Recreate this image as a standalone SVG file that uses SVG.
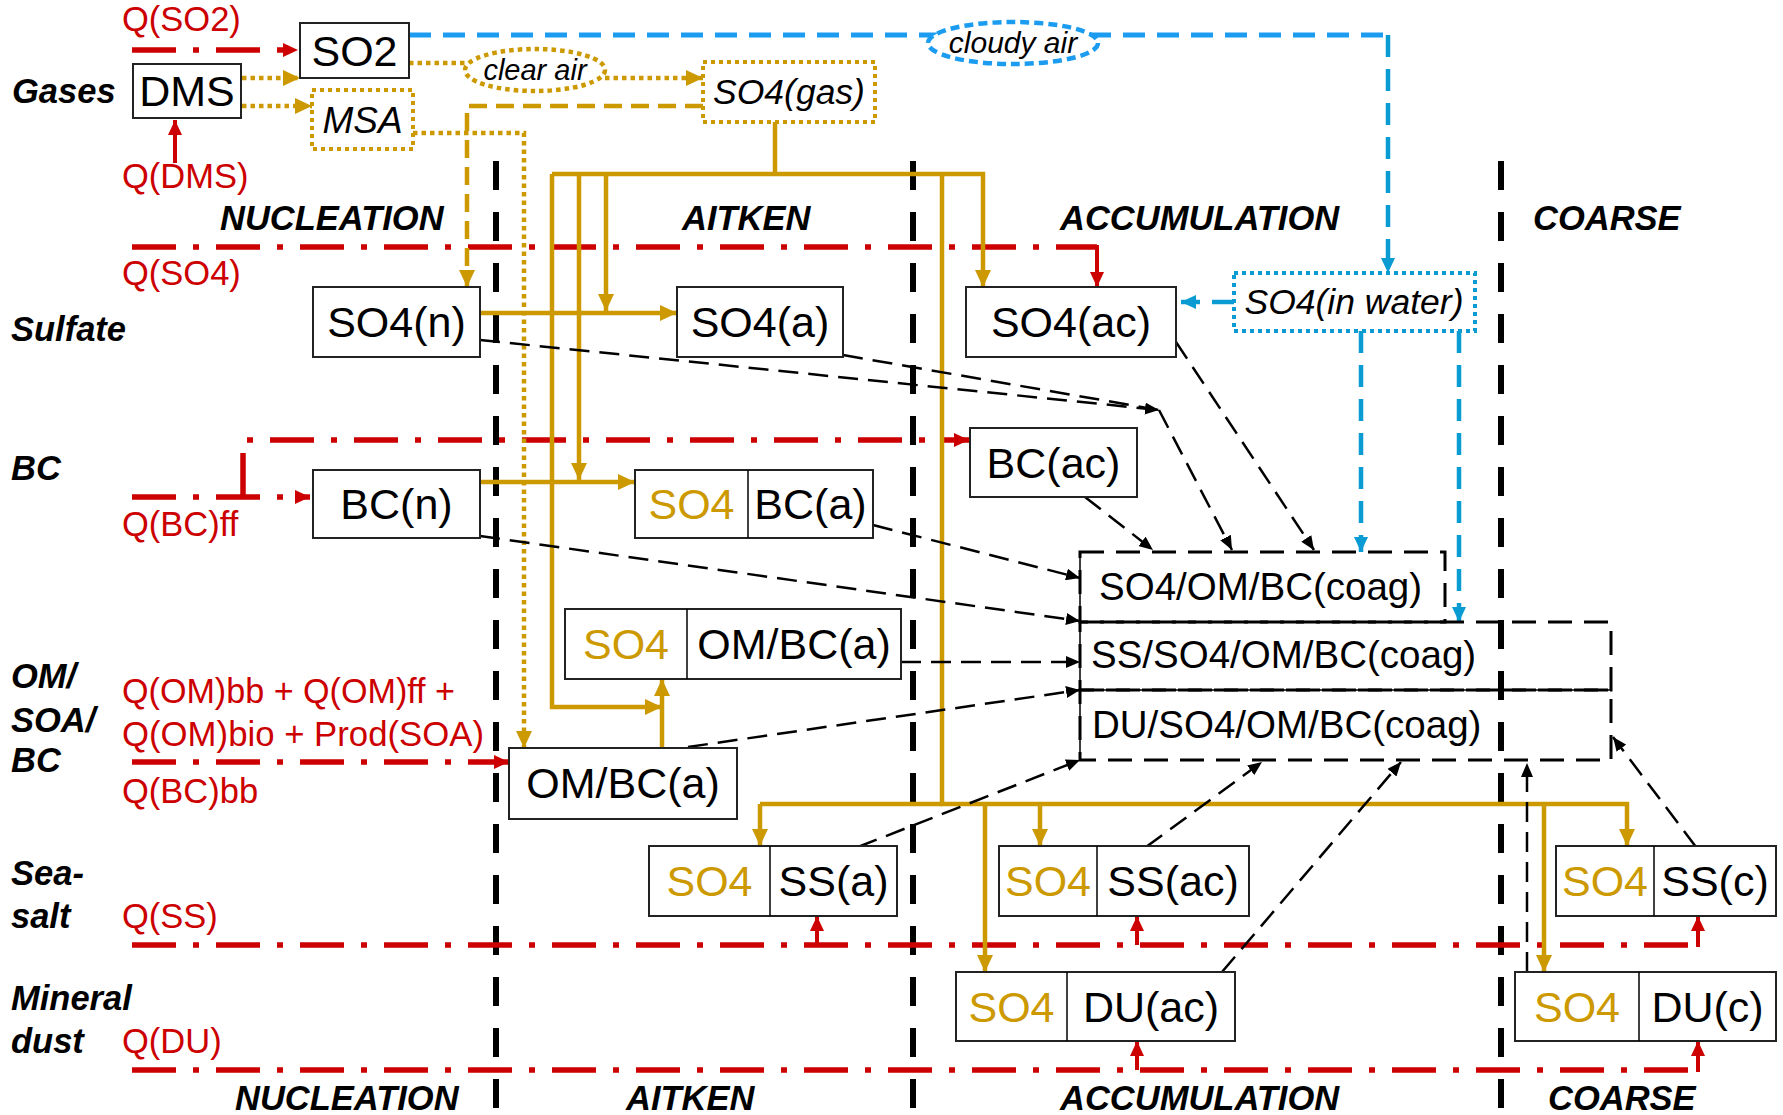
<svg xmlns="http://www.w3.org/2000/svg" width="1783" height="1115" viewBox="0 0 1783 1115">
<style>
text{font-family:"Liberation Sans",Arial,sans-serif}
.bx{font-size:43px;fill:#000;text-anchor:middle}
.gt{fill:#CC9900}
.it{font-style:italic}
.lab{font-size:34.5px;font-style:italic;font-weight:bold;fill:#000}
.rq{font-size:34.5px;fill:#CC0000}
.co{font-size:38.5px;fill:#000}
.box{fill:#fff;stroke:#222;stroke-width:2}
.div{stroke:#000;stroke-width:6;stroke-dasharray:29 22;fill:none}
.rdd{stroke:#CC0000;stroke-width:5.5;stroke-dasharray:44 17 6 17;fill:none}
.rs{stroke:#CC0000;stroke-width:4;fill:none}
.gs{stroke:#CC9900;stroke-width:4.5;fill:none}
.gdot{stroke:#CC9900;stroke-width:4.5;stroke-dasharray:4.5 4;fill:none}
.gdash{stroke:#CC9900;stroke-width:4.5;stroke-dasharray:18 9;fill:none}
.bsky{stroke:#1C9CF0;stroke-width:5;stroke-dasharray:22 12;fill:none}
.bteal{stroke:#0B9BD3;stroke-width:4.5;stroke-dasharray:22 12;fill:none}
.cg{stroke:#000;stroke-width:2.5;stroke-dasharray:20 10;fill:none}
.cgbox{stroke:#000;stroke-width:3;stroke-dasharray:24 12;fill:none}
.thin{stroke:#000;stroke-width:1.5;fill:none}
.gbox{fill:#fff;stroke:#CC9900;stroke-width:4;stroke-dasharray:4 4}
.git{font-style:italic;fill:#000;text-anchor:middle}
</style>
<defs>
<marker id="aR" markerUnits="userSpaceOnUse" markerWidth="15" markerHeight="14" refX="15" refY="7" orient="auto"><path d="M0,0 L15,7 L0,14 z" fill="#CC0000"/></marker>
<marker id="aG" markerUnits="userSpaceOnUse" markerWidth="17" markerHeight="16" refX="17" refY="8" orient="auto"><path d="M0,0 L17,8 L0,16 z" fill="#CC9900"/></marker>
<marker id="aB" markerUnits="userSpaceOnUse" markerWidth="15" markerHeight="14" refX="15" refY="7" orient="auto"><path d="M0,0 L15,7 L0,14 z" fill="#0B9BD3"/></marker>
<marker id="aK" markerUnits="userSpaceOnUse" markerWidth="14" markerHeight="12" refX="14" refY="6" orient="auto"><path d="M0,0 L14,6 L0,12 z" fill="#000"/></marker>
</defs>
<rect width="1783" height="1115" fill="#fff"/>

<g id="labels">
<text class="lab" x="12" y="103">Gases</text>
<text class="lab" x="11" y="341">Sulfate</text>
<text class="lab" x="11" y="480">BC</text>
<text class="lab" x="11" y="688">OM/</text>
<text class="lab" x="11" y="732">SOA/</text>
<text class="lab" x="11" y="772">BC</text>
<text class="lab" x="11" y="885">Sea-</text>
<text class="lab" x="11" y="928">salt</text>
<text class="lab" x="11" y="1010">Mineral</text>
<text class="lab" x="11" y="1053">dust</text>
<text class="lab" x="220" y="230">NUCLEATION</text>
<text class="lab" x="682" y="230">AITKEN</text>
<text class="lab" x="1060" y="230">ACCUMULATION</text>
<text class="lab" x="1533" y="230">COARSE</text>
<text class="lab" x="235" y="1110">NUCLEATION</text>
<text class="lab" x="626" y="1110">AITKEN</text>
<text class="lab" x="1060" y="1110">ACCUMULATION</text>
<text class="lab" x="1548" y="1110">COARSE</text>
<text class="rq" x="122" y="31">Q(SO2)</text>
<text class="rq" x="122" y="188">Q(DMS)</text>
<text class="rq" x="122" y="285">Q(SO4)</text>
<text class="rq" x="122" y="536">Q(BC)ff</text>
<text class="rq" x="122" y="703" textLength="333" lengthAdjust="spacingAndGlyphs">Q(OM)bb + Q(OM)ff +</text>
<text class="rq" x="122" y="746" textLength="362" lengthAdjust="spacingAndGlyphs">Q(OM)bio + Prod(SOA)</text>
<text class="rq" x="122" y="803">Q(BC)bb</text>
<text class="rq" x="122" y="928">Q(SS)</text>
<text class="rq" x="122" y="1053">Q(DU)</text>
</g>

<g id="dividers">
<path class="div" d="M496,161 V1115"/>
<path class="div" d="M913,161 V1115"/>
<path class="div" d="M1501,161 V1115"/>
</g>

<g id="connectors">
<path class="rdd" d="M132,50 H298" marker-end="url(#aR)"/>
<path class="rs" d="M175,163 V120" marker-end="url(#aR)"/>
<path class="rdd" d="M132,247 H1097"/>
<path class="rs" d="M1097,245 V287" marker-end="url(#aR)"/>
<path class="rdd" d="M132,497 H310" marker-end="url(#aR)"/>
<path class="rdd" d="M243,497 V440 H969" marker-end="url(#aR)"/>
<path class="rdd" d="M132,762 H509" marker-end="url(#aR)"/>
<path class="rdd" d="M132,945 H1698"/>
<path class="rs" d="M817,945 V916" marker-end="url(#aR)"/>
<path class="rs" d="M1137,945 V916" marker-end="url(#aR)"/>
<path class="rs" d="M1698,947 V916" marker-end="url(#aR)"/>
<path class="rdd" d="M132,1070 H1698"/>
<path class="rs" d="M1137,1070 V1041" marker-end="url(#aR)"/>
<path class="rs" d="M1698,1072 V1041" marker-end="url(#aR)"/>

<path class="gdot" d="M242,78 H300" marker-end="url(#aG)"/>
<path class="gdot" d="M242,106 H312" marker-end="url(#aG)"/>
<path class="gdot" d="M409,63 H466"/>
<path class="gdot" d="M605,78 H703" marker-end="url(#aG)"/>
<path class="gdot" d="M413,133 H524 V748" marker-end="url(#aG)"/>
<path class="gdash" d="M703,106 H467 V287" marker-end="url(#aG)"/>

<path class="gs" d="M775,122 V174"/>
<path class="gs" d="M552,174 H983 V287" marker-end="url(#aG)"/>
<path class="gs" d="M606,174 V311" marker-end="url(#aG)"/>
<path class="gs" d="M579,174 V480" marker-end="url(#aG)"/>
<path class="gs" d="M552,174 V707 H662" marker-end="url(#aG)"/>
<path class="gs" d="M662,748 V679" marker-end="url(#aG)"/>
<path class="gs" d="M480,313 H677" marker-end="url(#aG)"/>
<path class="gs" d="M480,482 H635" marker-end="url(#aG)"/>
<path class="gs" d="M942,174 V804 H1627 V846" marker-end="url(#aG)"/>
<path class="gs" d="M760,804 V846" marker-end="url(#aG)"/>
<path class="gs" d="M760,804 H942"/>
<path class="gs" d="M985,804 V972" marker-end="url(#aG)"/>
<path class="gs" d="M1040,804 V846" marker-end="url(#aG)"/>
<path class="gs" d="M1544,804 V972" marker-end="url(#aG)"/>

<path class="bsky" d="M409,35 H1388"/>
<path class="bteal" d="M1388,35 V273" marker-end="url(#aB)"/>
<path class="bteal" d="M1234,302 H1181" marker-end="url(#aB)"/>
<path class="bteal" d="M1361,331 V552" marker-end="url(#aB)"/>
<path class="bteal" d="M1459,331 V622" marker-end="url(#aB)"/>

<path class="cg" d="M480,340 L1159,410" marker-end="url(#aK)"/>
<path class="cg" d="M843,355 L1159,410"/>
<path class="cg" d="M1159,410 L1232,550" marker-end="url(#aK)"/>
<path class="cg" d="M1176,342 L1314,550" marker-end="url(#aK)"/>
<path class="cg" d="M1085,497 L1153,550" marker-end="url(#aK)"/>
<path class="cg" d="M873,525 L1080,578" marker-end="url(#aK)"/>
<path class="cg" d="M480,536 L1080,621" marker-end="url(#aK)"/>
<path class="cg" d="M901,662 H1080" marker-end="url(#aK)"/>
<path class="cg" d="M688,747 L1080,690" marker-end="url(#aK)"/>
<path class="cg" d="M858,847 L1080,760" marker-end="url(#aK)"/>
<path class="cg" d="M1146,847 L1262,762" marker-end="url(#aK)"/>
<path class="cg" d="M1222,972 L1401,762" marker-end="url(#aK)"/>
<path class="cg" d="M1527,972 V763" marker-end="url(#aK)"/>
<path class="cg" d="M1696,847 L1613,737" marker-end="url(#aK)"/>
</g>

<g id="n-clearair">
<ellipse cx="535" cy="70" rx="70" ry="21" class="gdot" style="fill:#fff"/>
<text class="git" x="535" y="80" style="font-size:29px">clear air</text>
</g>
<g id="n-cloudyair">
<ellipse cx="1013" cy="43" rx="85" ry="21" style="fill:#fff;stroke:#1C9CF0;stroke-width:4.5;stroke-dasharray:9 5"/>
<text class="git" x="1013" y="53" style="font-size:30px">cloudy air</text>
</g>
<g id="n-so2"><rect class="box" x="300" y="23" width="109" height="55"/><text class="bx" x="354.5" y="66">SO2</text></g>
<g id="n-dms"><rect class="box" x="133" y="64" width="108" height="54"/><text class="bx" x="187" y="106">DMS</text></g>
<g id="n-msa"><rect class="gbox" x="312" y="90" width="101" height="59"/><text class="git" x="362.5" y="133" style="font-size:37px">MSA</text></g>
<g id="n-so4gas"><rect class="gbox" x="703" y="62" width="172" height="60"/><text class="git" x="789" y="104" style="font-size:35.5px">SO4(gas)</text></g>
<g id="n-so4water"><rect x="1234" y="273" width="241" height="58" style="fill:#fff;stroke:#0B9BD3;stroke-width:4;stroke-dasharray:4 4"/><text class="git" x="1354" y="314" style="font-size:35.5px">SO4(in water)</text></g>
<g id="n-so4n"><rect class="box" x="313" y="287" width="167" height="70"/><text class="bx" x="396.5" y="337">SO4(n)</text></g>
<g id="n-so4a"><rect class="box" x="677" y="287" width="166" height="70"/><text class="bx" x="760" y="337">SO4(a)</text></g>
<g id="n-so4ac"><rect class="box" x="966" y="287" width="210" height="70"/><text class="bx" x="1071" y="337">SO4(ac)</text></g>
<g id="n-bcn"><rect class="box" x="313" y="470" width="167" height="68"/><text class="bx" x="396.5" y="519">BC(n)</text></g>
<g id="n-bca"><rect class="box" x="635" y="470" width="238" height="68"/><line class="thin" x1="748" y1="470" x2="748" y2="538"/><text class="bx gt" x="691.5" y="519">SO4</text><text class="bx" x="810.5" y="519">BC(a)</text></g>
<g id="n-bcac"><rect class="box" x="970" y="428" width="167" height="69"/><text class="bx" x="1053.5" y="478">BC(ac)</text></g>
<g id="n-so4ombca"><rect class="box" x="565" y="609" width="336" height="70"/><line class="thin" x1="687" y1="609" x2="687" y2="679"/><text class="bx gt" x="626" y="659">SO4</text><text class="bx" x="794" y="659">OM/BC(a)</text></g>
<g id="n-ombca"><rect class="box" x="509" y="748" width="228" height="71"/><text class="bx" x="623" y="798">OM/BC(a)</text></g>
<g id="n-ssa"><rect class="box" x="649" y="846" width="248" height="70"/><line class="thin" x1="770" y1="846" x2="770" y2="916"/><text class="bx gt" x="709.5" y="896">SO4</text><text class="bx" x="833.5" y="896">SS(a)</text></g>
<g id="n-ssac"><rect class="box" x="999" y="846" width="250" height="70"/><line class="thin" x1="1097" y1="846" x2="1097" y2="916"/><text class="bx gt" x="1048" y="896">SO4</text><text class="bx" x="1173" y="896">SS(ac)</text></g>
<g id="n-duac"><rect class="box" x="956" y="972" width="279" height="69"/><line class="thin" x1="1067" y1="972" x2="1067" y2="1041"/><text class="bx gt" x="1011.5" y="1022">SO4</text><text class="bx" x="1151" y="1022">DU(ac)</text></g>
<g id="n-ssc"><rect class="box" x="1556" y="846" width="220" height="70"/><line class="thin" x1="1654" y1="846" x2="1654" y2="916"/><text class="bx gt" x="1605" y="896">SO4</text><text class="bx" x="1715" y="896">SS(c)</text></g>
<g id="n-duc"><rect class="box" x="1515" y="972" width="261" height="69"/><line class="thin" x1="1639" y1="972" x2="1639" y2="1041"/><text class="bx gt" x="1577" y="1022">SO4</text><text class="bx" x="1707.5" y="1022">DU(c)</text></g>

<g id="n-coag">
<rect class="cgbox" x="1080" y="552" width="365" height="70"/>
<rect class="cgbox" x="1080" y="622" width="531" height="68"/>
<rect class="cgbox" x="1080" y="690" width="531" height="70"/>
<path class="thin" d="M1080,552 V760 M1080,622 H1445 M1080,690 H1611"/>
<text class="co" x="1099" y="600">SO4/OM/BC(coag)</text>
<text class="co" x="1091" y="668">SS/SO4/OM/BC(coag)</text>
<text class="co" x="1092" y="738">DU/SO4/OM/BC(coag)</text>
</g>
</svg>
